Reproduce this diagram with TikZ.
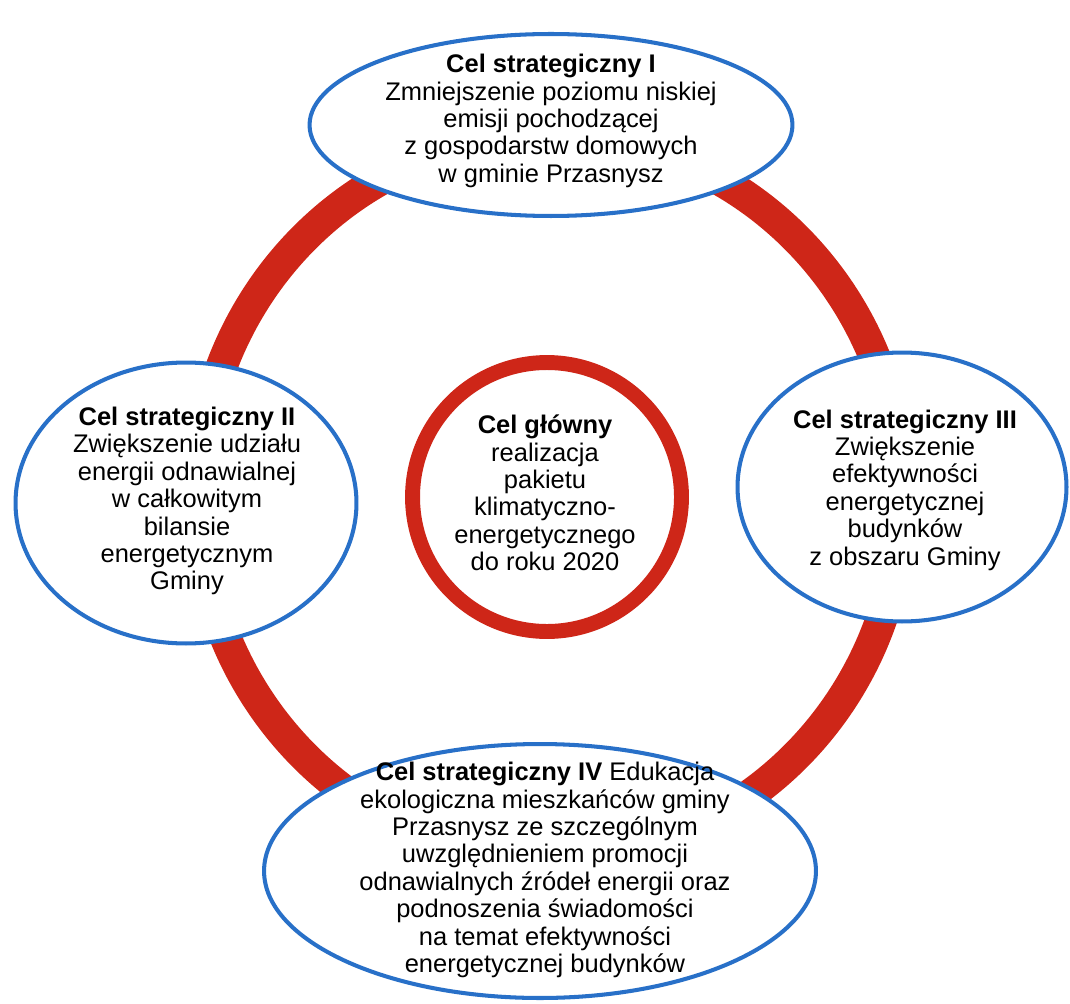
\documentclass[tikz,border=0pt]{standalone}
\usepackage{fontspec}
\setmainfont{Liberation Sans}
\usetikzlibrary{shapes.geometric}
\definecolor{celblue}{RGB}{40,112,200}
\definecolor{celred}{RGB}{206,38,24}

\begin{document}
\begin{tikzpicture}[x=0.02cm, y=-0.02cm,
        cel/.style={ellipse, draw=celblue, line width=2.3pt, fill=white, inner sep=0pt},
        glowny/.style={circle, draw=celred, line width=8.5pt, fill=white,
            inner sep=0pt, minimum size=5.38cm},
        opis/.style={align=center, inner sep=0pt,
            font=\fontsize{14.5}{15.6}\selectfont}]
    \useasboundingbox (0,0) rectangle (1070,1003);

    % pierscien w tle
    \draw[celred, line width=18pt]
        (550,497) ellipse [x radius=7.04cm, y radius=7.24cm];

    \node[glowny] (glowny) at (547,497) {};
    \node[cel, minimum width=9.66cm, minimum height=3.64cm] (cel1) at (551,125) {};
    \node[cel, minimum width=6.82cm, minimum height=5.62cm] (cel2) at (186,503) {};
    \node[cel, minimum width=6.58cm, minimum height=5.38cm] (cel3) at (902,487) {};
    \node[cel, minimum width=11.04cm, minimum height=5.08cm] (cel4) at (540,871) {};

    \node[opis] (t0) at (545,493)
        {\textbf{Cel główny}\\realizacja\\pakietu\\klimatyczno-\\energetycznego\\do roku 2020};
    \node[opis] (t1) at (551,121)
        {\textbf{Cel strategiczny I}\\Zmniejszenie poziomu niskiej\\emisji pochodzącej\\
         z gospodarstw domowych\\w gminie Przasnysz};
    \node[opis] (t2) at (187,501)
        {\textbf{Cel strategiczny II}\\Zwiększenie udziału\\energii odnawialnej\\
         w całkowitym\\bilansie\\energetycznym\\Gminy};
    \node[opis] (t3) at (905,490)
        {\textbf{Cel strategiczny III}\\Zwiększenie\\efektywności\\energetycznej\\
         budynków\\z obszaru Gminy};
    \node[opis] (t4) at (545,870)
        {\textbf{Cel strategiczny IV} Edukacja\\ekologiczna mieszkańców gminy\\
         Przasnysz ze szczególnym\\uwzględnieniem promocji\\
         odnawialnych źródeł energii oraz\\podnoszenia świadomości\\
         na temat efektywności\\energetycznej budynków};
\end{tikzpicture}
\end{document}
